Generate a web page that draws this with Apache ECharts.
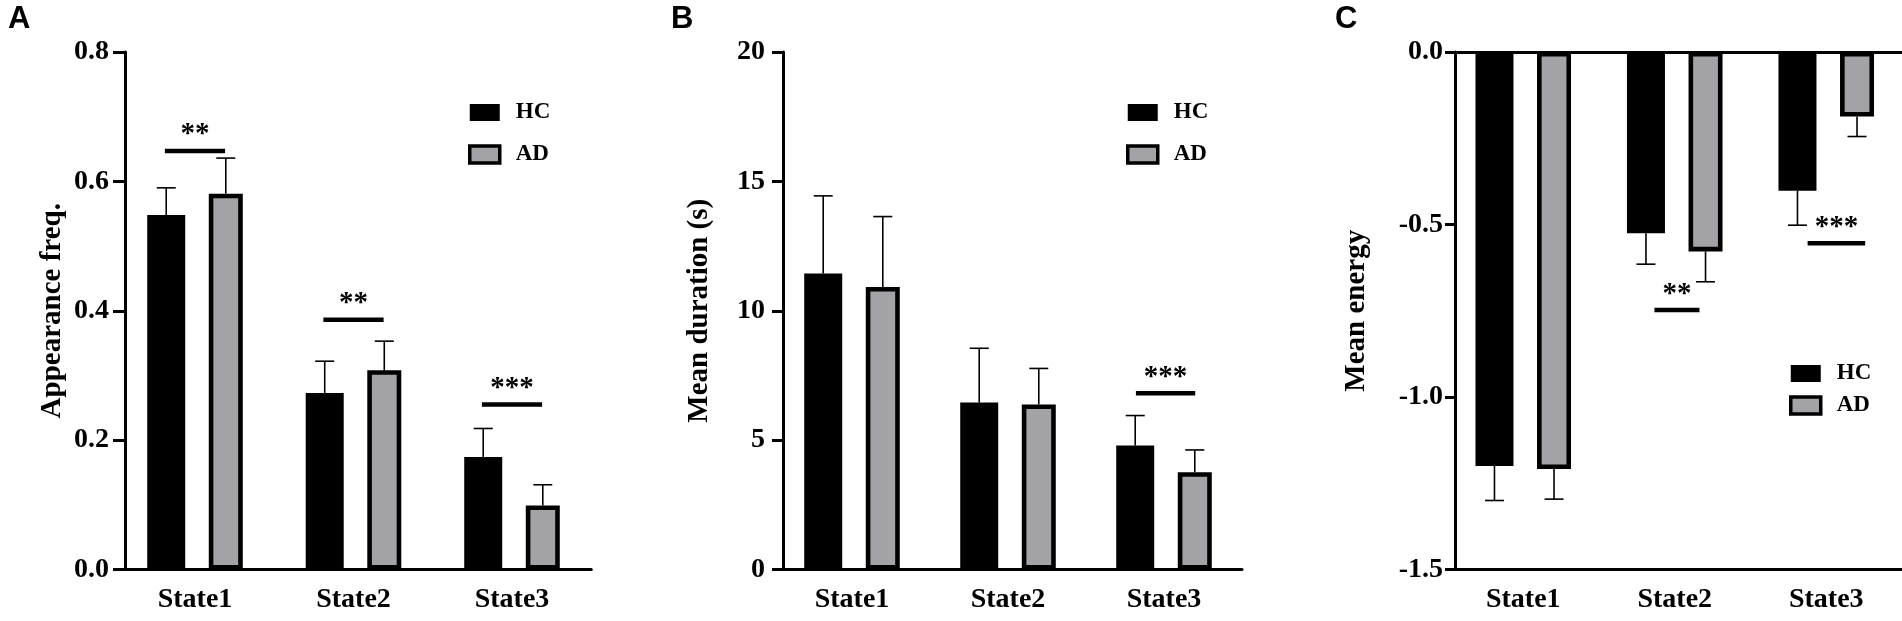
<!DOCTYPE html>
<html>
<head>
<meta charset="utf-8">
<script src="https://cdn.jsdelivr.net/npm/echarts@6/dist/echarts.min.js"></script>
<style>
    html, body { margin: 0; padding: 0; background: #fff; }
    #chart { width: 1902px; height: 621px; }
</style>
</head>
<body>
<div id="chart"></div>
<script>
const states = ['State1', 'State2', 'State3'];

// A: appearance frequency
const freqHC = [0.548, 0.273, 0.174];
const freqHCErr = [0.042, 0.049, 0.044];
const freqAD = [0.581, 0.308, 0.099];
const freqADErr = [0.055, 0.045, 0.032];
const freqSigState = [0, 1, 2];
const freqSigLevel = [0.647, 0.386, 0.255];
const freqSigMark = ['**', '**', '***'];
const freqSigSpan = [[-0.19, 0.19], [-0.19, 0.19], [-0.19, 0.19]];

// B: mean duration (s)
const durHC = [11.44, 6.45, 4.79];
const durHCErr = [3.0, 2.1, 1.16];
const durAD = [10.92, 6.38, 3.76];
const durADErr = [2.72, 1.39, 0.86];
const durSigState = [2];
const durSigLevel = [6.81];
const durSigMark = ['***'];
const durSigSpan = [[-0.18, 0.2]];

// C: mean energy
const energyHC = [-1.2, -0.525, -0.402];
const energyHCErr = [0.1, 0.09, 0.1];
const energyAD = [-1.209, -0.578, -0.187];
const energyADErr = [0.087, 0.088, 0.058];
const energySigState = [1, 2];
const energySigLevel = [-0.748, -0.554];
const energySigMark = ['**', '***'];
const energySigSpan = [[-0.134, 0.163], [-0.123, 0.257]];

const font = "'Liberation Serif', 'Times New Roman', serif";
const gray = '#a3a3a7';

// bar geometry (px), shared with the error bar offsets
const hcWidth = 38, adWidth = 34, gapPct = 0.62;
const widthSum = hcWidth * (1 + gapPct) + adWidth;
const hcOffset = -widthSum / 2 + hcWidth / 2;
const adOffset = -widthSum / 2 + hcWidth * (1 + gapPct) + adWidth / 2;

const chart = echarts.init(document.getElementById('chart'));

function errorSeries(gridIdx, means, errs, offset) {
    return {
        type: 'custom',
        xAxisIndex: gridIdx,
        yAxisIndex: gridIdx,
        z: 3,
        silent: true,
        data: means.map((m, i) => [i, m, errs[i]]),
        renderItem: (params, api) => {
            const mean = api.value(1);
            const sign = mean < 0 ? -1 : 1;
            const p0 = api.coord([api.value(0), mean]);
            const p1 = api.coord([api.value(0), mean + sign * api.value(2)]);
            const x = p0[0] + offset;
            const style = {stroke: '#000', lineWidth: 1.6};
            return {
                type: 'group',
                children: [
                    {type: 'line', shape: {x1: x, y1: p0[1], x2: x, y2: p1[1]}, style},
                    {type: 'line', shape: {x1: x - 9.5, y1: p1[1], x2: x + 9.5, y2: p1[1]}, style},
                ]
            };
        }
    };
}

function sigSeries(gridIdx, cats, levels, marks, spans) {
    return {
        type: 'custom',
        xAxisIndex: gridIdx,
        yAxisIndex: gridIdx,
        z: 4,
        silent: true,
        data: cats.map((c, i) => [c, levels[i]]),
        renderItem: (params, api) => {
            const i = params.dataIndex;
            const p = api.coord([api.value(0), api.value(1)]);
            const band = api.size([1, 0])[0];
            const x0 = p[0] + spans[i][0] * band;
            const x1 = p[0] + spans[i][1] * band;
            return {
                type: 'group',
                children: [
                    {type: 'rect', shape: {x: x0, y: p[1] - 2.25, width: x1 - x0, height: 4.5}, style: {fill: '#000'}},
                    {type: 'text', x: (x0 + x1) / 2, y: p[1] - 16, style: {
                        text: marks[i], fill: '#000', align: 'center', verticalAlign: 'middle',
                        font: 'bold 29px ' + font
                    }}
                ]
            };
        }
    };
}

function barPair(gridIdx, hc, ad) {
    return [
        {
            name: 'HC', type: 'bar', xAxisIndex: gridIdx, yAxisIndex: gridIdx,
            data: hc, barWidth: hcWidth, barGap: (gapPct * 100) + '%',
            itemStyle: {color: '#000'}
        },
        {
            name: 'AD', type: 'bar', xAxisIndex: gridIdx, yAxisIndex: gridIdx,
            data: ad, barWidth: adWidth, barGap: (gapPct * 100) + '%',
            itemStyle: {color: gray, borderColor: '#000', borderWidth: 4.6}
        }
    ];
}

const labelStyle = {color: '#000', fontFamily: font, fontWeight: 'bold', fontSize: 28};
const nameStyle = {color: '#000', fontFamily: font, fontWeight: 'bold', fontSize: 29};

function catAxis(gridIdx, extra) {
    return Object.assign({
        type: 'category',
        gridIndex: gridIdx,
        data: states,
        boundaryGap: true,
        axisLine: {onZero: false, lineStyle: {color: '#000', width: 3}},
        axisTick: {alignWithLabel: true, length: 14, lineStyle: {color: '#000', width: 3}},
        axisLabel: Object.assign({margin: 16}, labelStyle),
        splitLine: {show: false}
    }, extra || {});
}

function valAxis(gridIdx, min, max, interval, digits, offset, tick, margin, name, nameGap) {
    return {
        type: 'value',
        gridIndex: gridIdx,
        min, max, interval,
        offset,
        name,
        nameLocation: 'middle',
        nameGap,
        nameRotate: 90,
        nameTextStyle: nameStyle,
        axisLine: {show: true, lineStyle: {color: '#000', width: 3}},
        axisTick: {show: true, length: tick, lineStyle: {color: '#000', width: 3}},
        axisLabel: Object.assign({margin, formatter: v => v.toFixed(digits)}, labelStyle),
        splitLine: {show: false}
    };
}

function legendAt(left, top, gap) {
    return {
        orient: 'vertical',
        left, top,
        padding: 0,
        itemWidth: 30,
        itemHeight: 17,
        itemGap: gap,
        selectedMode: false,
        textStyle: {color: '#000', fontFamily: font, fontWeight: 'bold', fontSize: 23, padding: [0, 0, 0, 11]},
        data: [
            {name: 'HC', icon: 'rect'},
            {name: 'AD', icon: 'rect', itemStyle: {color: gray, borderColor: '#000', borderWidth: 3.5}}
        ]
    };
}

const letterStyle = {color: '#000', fontFamily: "'Liberation Sans', Arial, sans-serif", fontWeight: 'bold', fontSize: 31};

chart.setOption({
    animation: false,
    backgroundColor: '#fff',
    title: [
        {text: 'A', left: 8, top: 4, padding: 0, textStyle: letterStyle},
        {text: 'B', left: 671, top: 4, padding: 0, textStyle: letterStyle},
        {text: 'C', left: 1335, top: 4, padding: 0, textStyle: letterStyle},
    ],
    legend: [
        legendAt(468, 101, 19),
        legendAt(1126, 101, 19),
        legendAt(1789, 362, 9),
    ],
    grid: [
        {left: 115.75, top: 52, width: 475.5, height: 517.5},
        {left: 774, top: 52, width: 468, height: 517.5},
        {left: 1447.5, top: 52, width: 455, height: 517.5},
    ],
    xAxis: [
        catAxis(0),
        catAxis(1),
        catAxis(2, {position: 'bottom'}),
        catAxis(2, {position: 'top', axisTick: {show: false}, axisLabel: {show: false}}),
    ],
    yAxis: [
        valAxis(0, 0, 0.8, 0.2, 1, -9.25, 12, 16, 'Appearance freq.', 58),
        valAxis(1, 0, 20, 5, 0, -9, 11, 18, 'Mean duration (s)', 69),
        valAxis(2, -1.5, 0, 0.5, 1, -7.5, 10, 12, 'Mean energy', 84),
    ],
    series: [
        ...barPair(0, freqHC, freqAD),
        errorSeries(0, freqHC, freqHCErr, hcOffset),
        errorSeries(0, freqAD, freqADErr, adOffset),
        sigSeries(0, freqSigState, freqSigLevel, freqSigMark, freqSigSpan),

        ...barPair(1, durHC, durAD),
        errorSeries(1, durHC, durHCErr, hcOffset),
        errorSeries(1, durAD, durADErr, adOffset),
        sigSeries(1, durSigState, durSigLevel, durSigMark, durSigSpan),

        ...barPair(2, energyHC, energyAD),
        errorSeries(2, energyHC, energyHCErr, hcOffset),
        errorSeries(2, energyAD, energyADErr, adOffset),
        sigSeries(2, energySigState, energySigLevel, energySigMark, energySigSpan),
    ]
});
</script>
</body>
</html>
